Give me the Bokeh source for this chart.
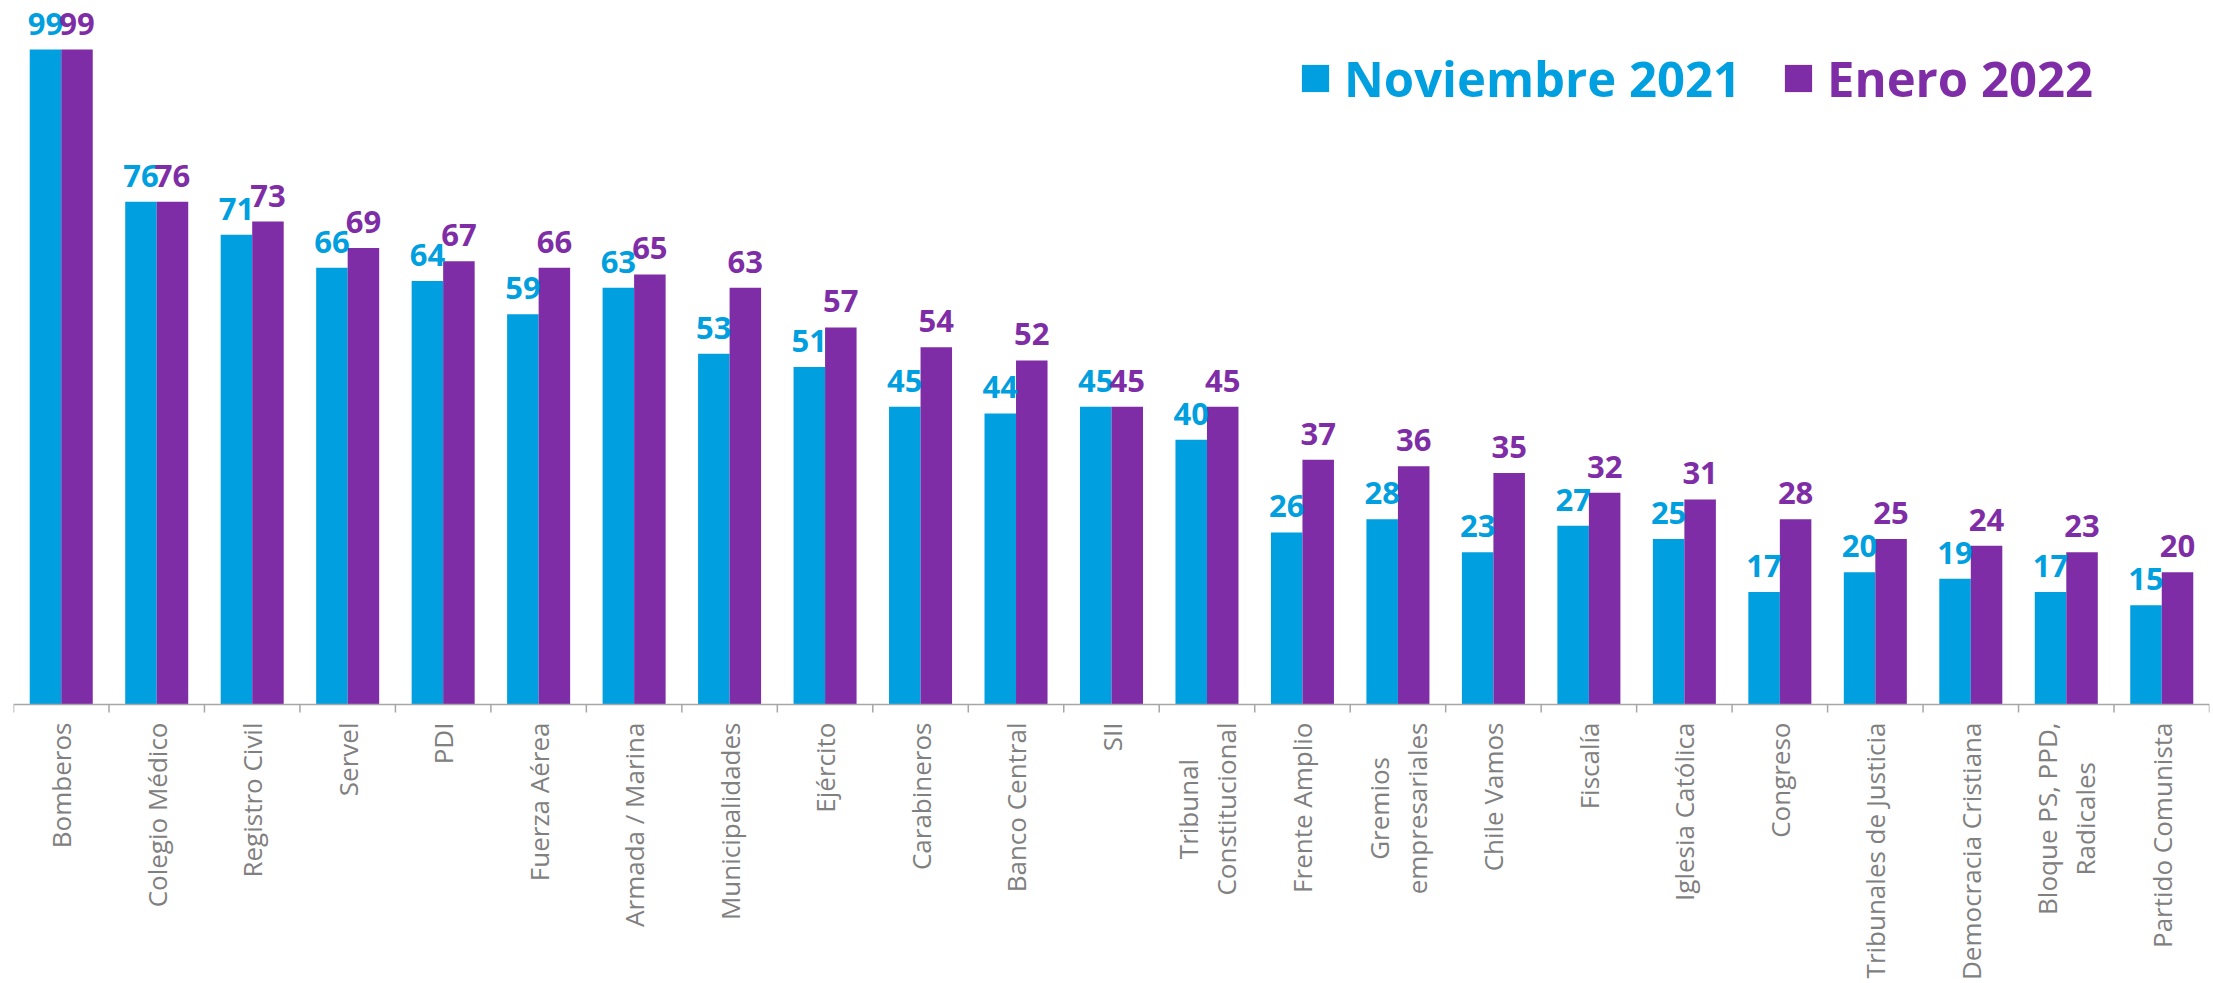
from math import pi
from bokeh.plotting import figure
from bokeh.models import ColumnDataSource, FactorRange, Range1d, Span, Legend, LegendItem, Label
from bokeh.transform import dodge
from bokeh.core.properties import value
from bokeh.embed import file_html
from bokeh.resources import INLINE

# ---------------- data ----------------
categories = [
    "Bomberos", "Colegio Médico", "Registro Civil", "Servel", "PDI",
    "Fuerza Aérea", "Armada / Marina", "Municipalidades", "Ejército",
    "Carabineros", "Banco Central", "SII", "Tribunal\nConstitucional",
    "Frente Amplio", "Gremios\nempresariales", "Chile Vamos", "Fiscalía",
    "Iglesia Católica", "Congreso", "Tribunales de Justicia",
    "Democracia Cristiana", "Bloque PS, PPD,\nRadicales", "Partido Comunista",
]
nov_2021 = [99, 76, 71, 66, 64, 59, 63, 53, 51, 45, 44, 45, 40, 26, 28, 23, 27, 25, 17, 20, 19, 17, 15]
ene_2022 = [99, 76, 73, 69, 67, 66, 65, 63, 57, 54, 52, 45, 45, 37, 36, 35, 32, 31, 28, 25, 24, 23, 20]
series_names = ["Noviembre 2021", "Enero 2022"]
source_note = "Plaza Pública"

# ---------------- style ----------------
BLUE = "#009FDF"
PURPLE = "#7F2DA6"
AXIS_GREY = "#a6a6a6"
LABEL_GREY = "#808080"
FONT = "Open Sans"

W, H = 2213, 983
PX = 655 / 99.0               # pixels per unit
y_top = 99 + 49 / PX
y_bot = y_top - H / PX

src = ColumnDataSource(dict(
    cat=categories,
    nov=nov_2021,
    ene=ene_2022,
    nov_lbl=[str(v) for v in nov_2021],
    ene_lbl=[str(v) for v in ene_2022],
))

p = figure(
    width=W, height=H,
    x_range=FactorRange(factors=categories, range_padding=0),
    y_range=Range1d(y_bot, y_top),
    output_backend="svg", toolbar_location=None,
    x_axis_location=None, y_axis_location=None,
    min_border_left=13, min_border_right=4, min_border_top=0, min_border_bottom=0,
    outline_line_color=None,
)
p.grid.visible = False

off = 0.165
bw = 0.33
r1 = p.vbar(x=dodge("cat", -off, range=p.x_range), top="nov", width=bw, source=src,
            fill_color=BLUE, line_color=None)
r2 = p.vbar(x=dodge("cat", off, range=p.x_range), top="ene", width=bw, source=src,
            fill_color=PURPLE, line_color=None)

# value labels
for xo, col, lbl, color in ((-off, "nov", "nov_lbl", BLUE), (off, "ene", "ene_lbl", PURPLE)):
    p.text(x=dodge("cat", xo, range=p.x_range), y=col, text=lbl, source=src,
           text_align="center", text_baseline="alphabetic", y_offset=-26,
           text_font=value(FONT), text_font_style="bold", text_font_size="31px",
           text_color=color)

# axis line and boundary ticks
p.add_layout(Span(location=0, dimension="width", line_color=AXIS_GREY, line_width=1.5))
bounds = list(range(len(categories) + 1))
p.segment(x0=bounds, y0=[0] * len(bounds), x1=bounds, y1=[-8 / PX] * len(bounds),
          line_color=AXIS_GREY, line_width=1.5)

# category labels (vertical, lines centred)
p.text(x="cat", y=-18 / PX, text="cat", source=src, angle=pi / 2,
       anchor="center_right", text_align="center", text_baseline="middle",
       text_line_height=1.05,
       text_font=value(FONT), text_font_size="26px", text_color=LABEL_GREY)

# legends
def make_legend(label, r, color, loc):
    return Legend(items=[LegendItem(label=label, renderers=[r])], location=loc,
                  label_text_font=FONT, label_text_font_style="bold",
                  label_text_font_size="49px", label_text_color=color,
                  glyph_width=34, glyph_height=34, label_standoff=12,
                  padding=0, margin=0, border_line_color=None,
                  background_fill_alpha=0)

p.add_layout(make_legend(series_names[0], r1, BLUE, (1285, 872)))
p.add_layout(make_legend(series_names[1], r2, PURPLE, (1768, 872)))

p.add_layout(Label(x=2140, y=8, x_units="screen", y_units="screen", text=source_note,
                   text_baseline="top", text_align="left", text_font=FONT,
                   text_font_size="40px", text_color="#6b6b6b"))

open("out.html", "w").write(file_html(p, INLINE))
